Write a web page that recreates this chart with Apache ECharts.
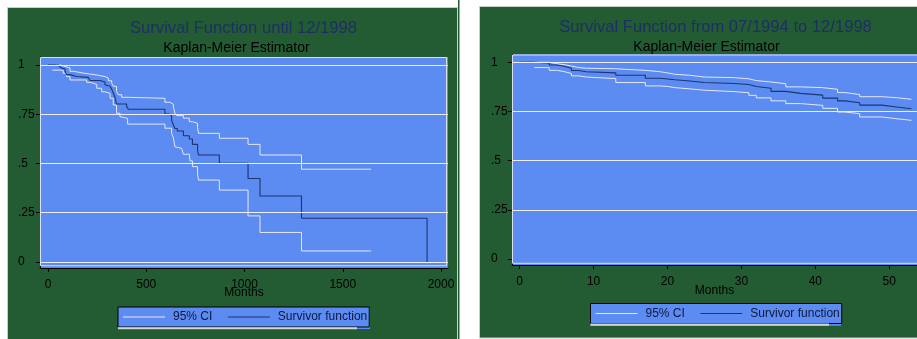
<!DOCTYPE html>
<html>
<head>
<meta charset="utf-8">
<script src="https://cdn.jsdelivr.net/npm/echarts@6/dist/echarts.min.js"></script>
<style>
  html, body { margin: 0; padding: 0; background: #ffffff; }
  #chart { width: 917px; height: 339px; }
</style>
</head>
<body>
<div id="chart"></div>
<script>
// Kaplan-Meier estimate, whole follow-up: [time, S(t)] – each value holds until the next time
const fullSurvivor = [[0,1.000],[55,0.992],[62,0.987],[70,0.980],[87,0.968],[95,0.951],[112,0.942],[146,0.937],[205,0.930],[214,0.921],[265,0.914],[290,0.900],[299,0.892],[316,0.886],[325,0.875],[332,0.858],[341,0.836],[349,0.802],[400,0.790],[409,0.775],[595,0.751],[617,0.743],[629,0.721],[638,0.695],[646,0.678],[658,0.665],[689,0.641],[719,0.624],[735,0.597],[761,0.569],[766,0.543],[872,0.501],[1018,0.424],[1079,0.335],[1290,0.222],[1929,0.000]];
const fullUpper = [[40,1.000],[62,0.993],[87,0.985],[112,0.968],[129,0.959],[180,0.954],[214,0.948],[256,0.941],[290,0.934],[307,0.920],[324,0.909],[332,0.892],[349,0.866],[358,0.849],[375,0.836],[409,0.831],[595,0.811],[620,0.801],[638,0.788],[646,0.755],[655,0.743],[689,0.730],[719,0.712],[735,0.704],[761,0.684],[766,0.653],[872,0.628],[1018,0.597],[1079,0.543],[1290,0.471],[1644,0.471]];
const fullLower = [[22,0.974],[62,0.971],[78,0.958],[95,0.941],[112,0.924],[197,0.912],[214,0.902],[248,0.882],[273,0.864],[290,0.856],[316,0.831],[332,0.797],[349,0.755],[366,0.738],[375,0.729],[405,0.700],[595,0.679],[629,0.653],[638,0.631],[646,0.585],[655,0.577],[680,0.569],[689,0.547],[719,0.543],[723,0.513],[735,0.484],[761,0.447],[766,0.416],[872,0.365],[1018,0.234],[1079,0.150],[1290,0.056],[1644,0.056]];

// Kaplan-Meier estimate, 07/1994 to 12/1998 (months)
const recentMonths   = [0, 2, 4, 5, 6, 7, 8, 9, 13, 17, 19, 20, 21, 23, 25, 29, 31, 32, 34, 36, 38, 41, 43, 44, 46, 49, 51, 53];
const recentSurvivor = [1.000, 0.997, 0.986, 0.980, 0.970, 0.958, 0.952, 0.946, 0.934, 0.919, 0.915, 0.911, 0.905, 0.897, 0.892, 0.887, 0.877, 0.868, 0.852, 0.842, 0.833, 0.818, 0.804, 0.794, 0.782, 0.773, 0.764, 0.764];
const recentUpper    = [null, 1.000, 0.993, 0.988, 0.981, 0.973, 0.970, 0.967, 0.959, 0.952, 0.946, 0.939, 0.934, 0.925, 0.922, 0.916, 0.907, 0.900, 0.891, 0.875, 0.871, 0.863, 0.846, 0.836, 0.825, 0.820, 0.812, 0.812];
const recentLower    = [null, 0.973, 0.959, 0.953, 0.943, 0.931, 0.925, 0.917, 0.897, 0.880, 0.877, 0.871, 0.865, 0.858, 0.851, 0.845, 0.832, 0.819, 0.804, 0.790, 0.781, 0.766, 0.747, 0.739, 0.722, 0.713, 0.705, 0.705];

const fullTicks   = [0, 500, 1000, 1500, 2000];
const recentTicks = [0, 10, 20, 30, 40, 50];
const yTicks      = [0, 0.25, 0.5, 0.75, 1];
const recentGridValues = [0.25, 0.5, 0.75, 1];

const titles = {
  left:  ['Survival Function until 12/1998', 'Kaplan-Meier Estimator'],
  right: ['Survival Function from 07/1994 to 12/1998', 'Kaplan-Meier Estimator']
};
const legendNames = ['95% CI', 'Survivor function'];

const zip = (xs, ys) => xs.map((x, i) => [x, ys[i]]).filter(p => p[1] !== null);

const FONT = 'Liberation Sans, Arial, sans-serif';
const GREEN = '#235b33';
const PLOT = '#5c8bf1';
const NAVY = '#1d3572';
const CI = '#e6e8f0';
const GRIDLINE = '#eef0f6';

const yFmt = v => (v === 0 ? '0' : v === 1 ? '1' : String(v).replace(/^0/, ''));

function xAxisCfg(grid, min, max, ticks, gap) {
  return {
    type: 'value', gridIndex: grid, min: min, max: max,
    axisLine: { show: true, onZero: false, lineStyle: { color: '#000', width: 1 } },
    axisTick: { show: true, customValues: ticks, length: 4, lineStyle: { color: '#000' } },
    axisLabel: { customValues: ticks, margin: 10.5, fontSize: 12, color: '#000', fontFamily: FONT, formatter: v => String(v) },
    splitLine: { show: false },
    name: 'Months', nameLocation: 'middle', nameGap: gap, nameMoveOverlap: false,
    nameTextStyle: { fontSize: 12, color: '#000', fontFamily: FONT }
  };
}
function yAxisCfg(grid, margin) {
  return {
    type: 'value', gridIndex: grid, min: -0.0305, max: 1.0406,
    axisLine: { show: true, onZero: false, lineStyle: { color: '#000', width: 1 } },
    axisTick: { show: true, customValues: yTicks, length: 4, lineStyle: { color: '#000' } },
    axisLabel: { customValues: yTicks, align: 'left', margin: margin, fontSize: 12, color: '#000', fontFamily: FONT, formatter: yFmt },
    splitLine: { show: false }
  };
}
function gridLines(idx, values) {
  return {
    type: 'line', xAxisIndex: idx, yAxisIndex: idx, data: [], silent: true, z: 1,
    markLine: {
      silent: true, symbol: ['none', 'none'], label: { show: false }, animation: false,
      lineStyle: { color: GRIDLINE, width: 1.2, type: 'solid' },
      emphasis: { disabled: true },
      data: values.map(v => ({ yAxis: v }))
    }
  };
}
function stepSeries(idx, name, data, color, width) {
  return {
    type: 'line', name: name, xAxisIndex: idx, yAxisIndex: idx, step: 'end',
    data: data, symbol: 'none', showSymbol: false, z: color === NAVY ? 3 : 2,
    lineStyle: { color: color, width: width }, itemStyle: { color: color },
    emphasis: { disabled: true }
  };
}
function titleCfg(text, x, top, size, color) {
  return {
    text: text, left: x, top: top, textAlign: 'center', padding: 0,
    textStyle: { fontSize: size, fontWeight: 'normal', color: color, fontFamily: FONT, lineHeight: size }
  };
}
function legendCfg(left, top) {
  return {
    data: legendNames, left: left, top: top, orient: 'horizontal',
    icon: 'rect', itemWidth: 42, itemHeight: 1.2, itemGap: 15.5,
    padding: [3, 2, 3, 5],
    backgroundColor: PLOT, borderColor: '#000', borderWidth: 1, borderRadius: 0,
    selectedMode: false,
    textStyle: { fontSize: 12, lineHeight: 14, color: '#10183a', fontFamily: FONT, padding: [0, 0, 0, 3] }
  };
}

const chart = echarts.init(document.getElementById('chart'), null, { renderer: 'canvas' });
chart.setOption({
  animation: false,
  backgroundColor: '#ffffff',
  title: [
    titleCfg(titles.left[0], 243.5, 20.5, 16.6, '#1e2f66'),
    titleCfg(titles.left[1], 236.5, 41.4, 14, '#000'),
    titleCfg(titles.right[0], 715.5, 18.9, 16.6, '#1e2f66'),
    titleCfg(titles.right[1], 706.5, 40.3, 14, '#000')
  ],
  legend: [legendCfg(118, 307), legendCfg(590.5, 303.5)],
  grid: [
    { left: 40, top: 57, width: 408, height: 211, show: true, backgroundColor: PLOT, borderWidth: 0, containLabel: false },
    { left: 512, top: 54.3, width: 410, height: 210.7, show: true, backgroundColor: PLOT, borderWidth: 0, containLabel: false }
  ],
  xAxis: [
    xAxisCfg(0, -40.7, 2035.6, fullTicks, 19),
    xAxisCfg(1, -1.04, 53.75, recentTicks, 20)
  ],
  yAxis: [yAxisCfg(0, 22), yAxisCfg(1, 21)],
  graphic: [
    // panel backgrounds
    { type: 'rect', z: -10, shape: { x: 7.5, y: 7.5, width: 450, height: 340 }, style: { fill: GREEN, stroke: '#c9cfc9', lineWidth: 1 } },
    { type: 'rect', z: -10, shape: { x: 458, y: 0, width: 1.5, height: 339 }, style: { fill: GREEN } },
    { type: 'rect', z: -10, shape: { x: 479.5, y: 6.5, width: 440, height: 331.5 }, style: { fill: GREEN, stroke: '#c9cfc9', lineWidth: 1 } },
    // light inner frames of the plot regions
    { type: 'rect', z: 1, silent: true, shape: { x: 40.5, y: 57.5, width: 406, height: 208.2 }, style: { fill: null, stroke: '#d9e0f2', lineWidth: 1 } },
    { type: 'rect', z: 1, silent: true, shape: { x: 512.5, y: 55, width: 410, height: 208.3 }, style: { fill: null, stroke: '#d9e0f2', lineWidth: 1 } },
    // legend under-strips
    { type: 'rect', z: 0, shape: { x: 118, y: 307, width: 252, height: 22 }, style: { fill: PLOT } },
    { type: 'rect', z: 10, shape: { x: 118, y: 327.3, width: 239, height: 2 }, style: { fill: '#d4d4d4' } },
    { type: 'rect', z: 0, shape: { x: 590.5, y: 303.5, width: 250.5, height: 22.3 }, style: { fill: PLOT } },
    { type: 'rect', z: 10, shape: { x: 590.5, y: 323.6, width: 238.5, height: 2.2 }, style: { fill: '#d4d4d4' } }
  ],
  series: [
    gridLines(0, yTicks),
    stepSeries(0, '95% CI', fullUpper, CI, 1),
    stepSeries(0, '95% CI', fullLower, CI, 1),
    stepSeries(0, 'Survivor function', fullSurvivor, NAVY, 1.1),
    gridLines(1, recentGridValues),
    stepSeries(1, '95% CI', zip(recentMonths, recentUpper), CI, 1),
    stepSeries(1, '95% CI', zip(recentMonths, recentLower), CI, 1),
    stepSeries(1, 'Survivor function', zip(recentMonths, recentSurvivor), NAVY, 1.1)
  ]
});
</script>
</body>
</html>
